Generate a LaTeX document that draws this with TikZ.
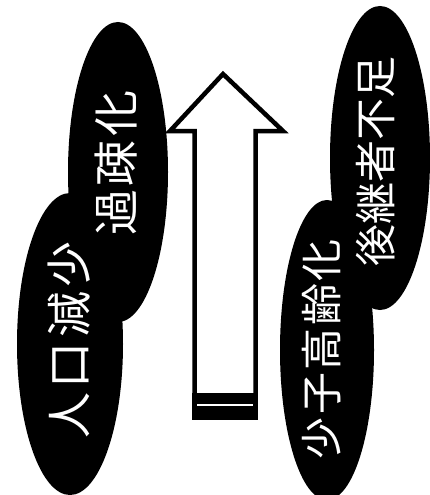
\documentclass[tikz,border=0pt]{standalone}
\usepackage{fontspec}
\newfontfamily\jpfont{Noto Sans CJK JP}
\usepackage{tikz}
\usetikzlibrary{shapes.geometric, positioning, calc}
\tikzset{
  bubble/.style = {ellipse, fill=black, draw=none, inner sep=0pt},
  ellitext/.style = {text=white, rotate=90, inner sep=0pt, font=\jpfont\fontsize{46}{46}\selectfont},
  arrowline/.style = {line width=4.5pt, line join=miter, draw=black},
}

\begin{document}
\begin{tikzpicture}[x=1pt, y=-1pt]
  \useasboundingbox (0,0) rectangle (430,495);

  \node[bubble, minimum width=106pt, minimum height=302pt] (depop)  at (70,344)  {};
  \node[bubble, minimum width=100pt, minimum height=300pt] (sparse) at (118,172) {};
  \node[bubble, minimum width=100pt, minimum height=304pt] (succ)   at (380,158) {};
  \node[bubble, minimum width=94pt,  minimum height=300pt] (aging)  at (327,350) {};

  \node[ellitext] (depoptext)  at (69,340)  {\addfontfeature{LetterSpace=9}人口減少};
  \node[ellitext] (sparsetext) at (116,163) {\addfontfeature{LetterSpace=8}過疎化};
  \node[ellitext, font=\jpfont\fontsize{42}{42}\selectfont] (succtext)  at (376,161) {後継者不足};
  \node[ellitext, font=\jpfont\fontsize{42}{42}\selectfont] (agingtext) at (322,349) {\addfontfeature{LetterSpace=6}少子高齢化};

  % hollow arrow
  \coordinate (tip) at (223,74);
  \coordinate (headl) at (170,131);
  \coordinate (headr) at (283,131);
  \draw[arrowline] (194.5,394) -- (194.5,131) -- (headl) -- (tip) -- (headr) -- (255.5,131) -- (255.5,394);
  \fill[black] (192,393) rectangle (258,420);
  \draw[white, line width=1.5pt] (197,405) -- (253,405);
\end{tikzpicture}
\end{document}
